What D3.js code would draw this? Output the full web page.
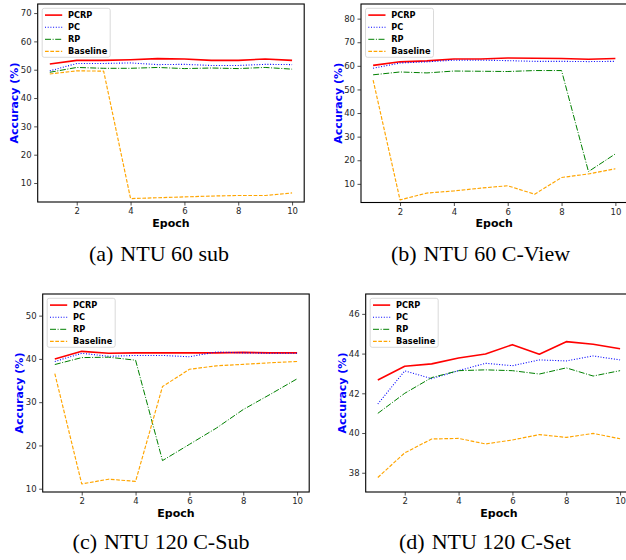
<!DOCTYPE html>
<html><head><meta charset="utf-8">
<script src="https://cdn.jsdelivr.net/npm/d3@7"></script>
<style>
html,body{margin:0;padding:0;background:#fff;}
svg{display:block;}
</style></head>
<body><svg id="c" width="626" height="560"></svg>
<script>
const epochs = [1,2,3,4,5,6,7,8,9,10];
const seriesNames = ["PCRP","PC","RP","Baseline"];
const xTicks = [2,4,6,8,10];

// (a) NTU 60 sub
const sub60_PCRP = [52.0,53.3,53.3,53.5,53.9,53.8,53.3,53.3,53.8,53.3];
const sub60_PC   = [49.6,52.2,52.2,52.4,51.8,51.9,51.5,51.5,51.9,51.8];
const sub60_RP   = [49.1,50.8,50.5,50.5,50.8,50.4,50.6,50.4,50.8,50.2];
const sub60_Base = [48.5,49.6,49.5,4.5,4.8,5.1,5.4,5.6,5.6,6.5];
const sub60_yTicks = [10,20,30,40,50,60,70];

// (b) NTU 60 C-View
const view60_PCRP = [60.2,61.7,62.1,62.9,62.9,63.3,63.2,63.1,62.8,63.1];
const view60_PC   = [59.0,61.2,61.7,62.4,62.4,62.2,61.9,61.9,61.8,61.9];
const view60_RP   = [56.2,57.4,57.0,57.8,57.7,57.6,58.0,58.0,15.2,22.7];
const view60_Base = [54.0,3.2,6.1,7.0,8.2,9.2,5.6,12.7,14.2,16.4];
const view60_yTicks = [10,20,30,40,50,60,70,80];

// (c) NTU 120 C-Sub
const sub120_PCRP = [40.0,41.75,41.3,41.4,41.4,41.4,41.4,41.5,41.4,41.4];
const sub120_PC   = [39.4,41.3,40.6,40.8,40.8,40.5,41.6,41.4,41.3,41.3];
const sub120_RP   = [38.7,40.3,40.4,39.7,16.5,20.25,24.0,28.3,31.8,35.4];
const sub120_Base = [36.6,11.1,12.2,11.7,33.6,37.6,38.4,38.75,39.1,39.4];
const sub120_yTicks = [10,20,30,40,50];

// (d) NTU 120 C-Set
const set120_PCRP = [42.67,43.36,43.48,43.78,43.98,44.45,43.97,44.6,44.47,44.24];
const set120_PC   = [41.46,43.13,42.74,43.14,43.51,43.39,43.68,43.63,43.88,43.68];
const set120_RP   = [40.99,42.0,42.79,43.14,43.18,43.14,42.97,43.28,42.87,43.14];
const set120_Base = [37.76,39.0,39.7,39.73,39.45,39.65,39.92,39.78,39.98,39.71];
const set120_yTicks = [38,40,42,44,46];

const captions = ["(a)","(b)","(c)","(d)"];
const captionNames = ["NTU 60 sub","NTU 60 C-View","NTU 120 C-Sub","NTU 120 C-Set"];

const styles = [
  {color:"#ff0000", width:1.6, dash:null},
  {color:"#0000ff", width:1.1, dash:"1,1.7"},
  {color:"#008000", width:1.0, dash:"6,1.6,1,1.6"},
  {color:"#ffa500", width:1.15, dash:"3.7,1.6"}
];

const panels = [
  {data:[sub60_PCRP,sub60_PC,sub60_RP,sub60_Base], yTicks:sub60_yTicks, ydom:[3.3,73.2],
   L:37.7, T:4, B:202, ylabX:13.5, cap:{x:159,y:260.5}},
  {data:[view60_PCRP,view60_PC,view60_RP,view60_Base], yTicks:view60_yTicks, ydom:[2.1,86.2],
   L:361, T:4, B:202.5, ylabX:338, cap:{x:480.5,y:260.5}},
  {data:[sub120_PCRP,sub120_PC,sub120_RP,sub120_Base], yTicks:sub120_yTicks, ydom:[9.24,55.0],
   L:42.7, T:294, B:492, ylabX:18.7, cap:{x:161,y:549}},
  {data:[set120_PCRP,set120_PC,set120_RP,set120_Base], yTicks:set120_yTicks, ydom:[37.03,47.0],
   L:365.7, T:294, B:492, ylabX:342, cap:{x:485,y:549}}
];

const svg = d3.select("#c");
const W = 266.5;

panels.forEach((p,pi)=>{
  const x = d3.scaleLinear().domain([0.55,10.45]).range([p.L, p.L+W]);
  const y = d3.scaleLinear().domain(p.ydom).range([p.B, p.T]);
  const g = svg.append("g");

  const line = d3.line().x((d,i)=>x(epochs[i])).y(d=>y(d));
  p.data.forEach((arr,si)=>{
    const s = styles[si];
    g.append("path").datum(arr).attr("d",line)
      .attr("fill","none").attr("stroke",s.color).attr("stroke-width",s.width)
      .attr("stroke-dasharray",s.dash).attr("stroke-linejoin","round");
  });

  g.append("rect").attr("x",p.L).attr("y",p.T).attr("width",W).attr("height",p.B-p.T)
    .attr("fill","none").attr("stroke","#000").attr("stroke-width",1.1);

  const xa = g.append("g").attr("transform",`translate(0,${p.B})`)
    .call(d3.axisBottom(x).tickValues(xTicks).tickSize(3.5).tickPadding(2.5).tickFormat(d3.format("d")));
  const ya = g.append("g").attr("transform",`translate(${p.L},0)`)
    .call(d3.axisLeft(y).tickValues(p.yTicks).tickSize(3.5).tickPadding(2.5).tickFormat(d3.format("d")));
  [xa,ya].forEach(a=>{
    a.select(".domain").remove();
    a.selectAll("line").attr("stroke","#222").attr("stroke-width",0.8);
    a.selectAll("text").attr("fill","#262626").style("font-family","DejaVu Sans").style("font-size","8.5px");
  });

  g.append("text").attr("x", x(5.5)).attr("y", p.B+24.5).attr("text-anchor","middle")
    .style("font-family","DejaVu Sans").style("font-weight","bold").style("font-size","11px")
    .attr("fill","#000").text("Epoch");
  g.append("text").attr("transform",`translate(${p.ylabX+4},${(p.T+p.B)/2}) rotate(-90)`)
    .attr("text-anchor","middle")
    .style("font-family","DejaVu Sans").style("font-weight","bold").style("font-size","11px")
    .attr("fill","#0000ff").text("Accuracy (%)");

  const lx = p.L+4.5, ly = p.T+4.3;
  const lg = g.append("g");
  lg.append("rect").attr("x",lx).attr("y",ly).attr("width",68).attr("height",49)
    .attr("rx",2).attr("fill","#fff").attr("fill-opacity",0.8).attr("stroke","#d0d0d0").attr("stroke-width",0.8);
  seriesNames.forEach((n,si)=>{
    const ry = ly + 6.8 + si*12.1;
    const s = styles[si];
    lg.append("line").attr("x1",lx+2.8).attr("x2",lx+20).attr("y1",ry).attr("y2",ry)
      .attr("stroke",s.color).attr("stroke-width",s.width).attr("stroke-dasharray",s.dash);
    lg.append("text").attr("x",lx+25.8).attr("y",ry+3)
      .style("font-family","DejaVu Sans").style("font-weight","bold").style("font-size","8.2px")
      .attr("fill","#000").text(n);
  });

  const ct = svg.append("text").attr("x",p.cap.x).attr("y",p.cap.y).attr("text-anchor","middle")
    .style("font-family","Liberation Serif, Times New Roman, serif").style("font-size","22px").attr("fill","#000");
  ct.append("tspan").text(captions[pi]);
  ct.append("tspan").attr("dx",7).text(captionNames[pi]);
});
</script>
</body></html>
